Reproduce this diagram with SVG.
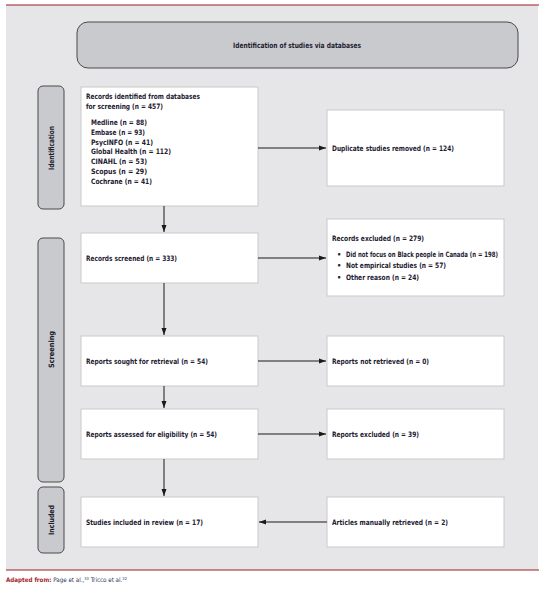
<svg xmlns="http://www.w3.org/2000/svg" width="544" height="593" viewBox="0 0 544 593">
<defs>
<style>
.t{font-family:"DejaVu Sans Condensed","Liberation Sans Narrow","Liberation Sans",sans-serif;font-weight:bold;font-size:7.4px;fill:#1c2030;}
.box{fill:#ffffff;stroke:#c9c9cb;stroke-width:1;}
.lab{fill:#c9cacd;stroke:#4a4a4a;stroke-width:1;}
.con{stroke:#1a1a1a;stroke-width:1;fill:none;}
</style>
<marker id="ah" markerWidth="8" markerHeight="6" refX="7" refY="3" orient="auto" markerUnits="userSpaceOnUse">
<path d="M0,0.5 L7,3 L0,5.5 Z" fill="#1a1a1a"/>
</marker>
</defs>
<rect x="0" y="0" width="544" height="593" fill="#ffffff"/>
<rect x="6" y="5" width="532" height="565" fill="#e6e6e8"/>
<line x1="6" y1="5" x2="539" y2="5" stroke="#9b1c22" stroke-width="1.2"/>
<line x1="6" y1="570" x2="539" y2="570" stroke="#9b1c22" stroke-width="1.2"/>

<g id="header">
<rect x="77" y="22" width="441" height="46" rx="11" fill="#c9cacd" stroke="#4a4a4a" stroke-width="1"/>
<text class="t" x="233" y="47.5" textLength="128" lengthAdjust="spacingAndGlyphs">Identification of studies via databases</text>
</g>

<g id="label-identification">
<rect class="lab" x="38" y="86" width="26" height="123" rx="5"/>
<text class="t" transform="translate(53.5,170) rotate(-90)" textLength="44" lengthAdjust="spacingAndGlyphs">Identification</text>
</g>
<g id="label-screening">
<rect class="lab" x="38" y="238" width="26" height="244" rx="5"/>
<text class="t" transform="translate(53.5,368) rotate(-90)" textLength="37" lengthAdjust="spacingAndGlyphs">Screening</text>
</g>
<g id="label-included">
<rect class="lab" x="38" y="487" width="26" height="66" rx="5"/>
<text class="t" transform="translate(53.5,535) rotate(-90)" textLength="30" lengthAdjust="spacingAndGlyphs">Included</text>
</g>

<g id="records-identified">
<rect class="box" x="81" y="87" width="177" height="119"/>
<text class="t" x="86" y="98.5" textLength="114" lengthAdjust="spacingAndGlyphs">Records identified from databases</text>
<text class="t" x="86" y="108.5" textLength="77" lengthAdjust="spacingAndGlyphs">for screening (n = 457)</text>
<text class="t" x="91" y="124.5" textLength="56" lengthAdjust="spacingAndGlyphs">Medline (n = 88)</text>
<text class="t" x="91" y="134.5" textLength="54" lengthAdjust="spacingAndGlyphs">Embase (n = 93)</text>
<text class="t" x="91" y="144.5" textLength="62" lengthAdjust="spacingAndGlyphs">PsycINFO (n = 41)</text>
<text class="t" x="91" y="154.3" textLength="80" lengthAdjust="spacingAndGlyphs">Global Health (n = 112)</text>
<text class="t" x="91" y="164.2" textLength="56" lengthAdjust="spacingAndGlyphs">CINAHL (n = 53)</text>
<text class="t" x="91" y="174.1" textLength="56" lengthAdjust="spacingAndGlyphs">Scopus (n = 29)</text>
<text class="t" x="91" y="184" textLength="61" lengthAdjust="spacingAndGlyphs">Cochrane (n = 41)</text>
</g>

<g id="duplicates">
<rect class="box" x="327" y="110" width="177" height="76"/>
<text class="t" x="332" y="150.5" textLength="122" lengthAdjust="spacingAndGlyphs">Duplicate studies removed (n = 124)</text>
</g>

<g id="records-screened">
<rect class="box" x="81" y="233" width="177" height="50"/>
<text class="t" x="86" y="261" textLength="91" lengthAdjust="spacingAndGlyphs">Records screened (n = 333)</text>
</g>

<g id="records-excluded">
<rect class="box" x="327" y="219" width="177" height="77"/>
<text class="t" x="332" y="241" textLength="92" lengthAdjust="spacingAndGlyphs">Records excluded (n = 279)</text>
<text class="t" x="337" y="256.5">•</text>
<text class="t" x="346" y="256.5" textLength="152" lengthAdjust="spacingAndGlyphs">Did not focus on Black people in Canada (n = 198)</text>
<text class="t" x="337" y="268">•</text>
<text class="t" x="346" y="268" textLength="100" lengthAdjust="spacingAndGlyphs">Not empirical studies (n = 57)</text>
<text class="t" x="337" y="279.5">•</text>
<text class="t" x="346" y="279.5" textLength="73" lengthAdjust="spacingAndGlyphs">Other reason (n = 24)</text>
</g>

<g id="reports-sought">
<rect class="box" x="81" y="336" width="177" height="50"/>
<text class="t" x="86" y="364" textLength="122" lengthAdjust="spacingAndGlyphs">Reports sought for retrieval (n = 54)</text>
</g>

<g id="reports-not-retrieved">
<rect class="box" x="327" y="336" width="177" height="50"/>
<text class="t" x="332" y="364" textLength="97" lengthAdjust="spacingAndGlyphs">Reports not retrieved (n = 0)</text>
</g>

<g id="reports-assessed">
<rect class="box" x="81" y="409" width="177" height="50"/>
<text class="t" x="86" y="437" textLength="131" lengthAdjust="spacingAndGlyphs">Reports assessed for eligibility (n = 54)</text>
</g>

<g id="reports-excluded">
<rect class="box" x="327" y="409" width="177" height="50"/>
<text class="t" x="332" y="437" textLength="87" lengthAdjust="spacingAndGlyphs">Reports excluded (n = 39)</text>
</g>

<g id="studies-included">
<rect class="box" x="81" y="497" width="177" height="50"/>
<text class="t" x="86" y="525" textLength="117" lengthAdjust="spacingAndGlyphs">Studies included in review (n = 17)</text>
</g>

<g id="articles-manual">
<rect class="box" x="327" y="497" width="177" height="50"/>
<text class="t" x="332" y="525" textLength="116" lengthAdjust="spacingAndGlyphs">Articles manually retrieved (n = 2)</text>
</g>

<g id="connectors">
<line class="con" x1="164" y1="206" x2="164" y2="232" marker-end="url(#ah)"/>
<line class="con" x1="258" y1="148" x2="326" y2="148" marker-end="url(#ah)"/>
<line class="con" x1="258" y1="258" x2="326" y2="258" marker-end="url(#ah)"/>
<line class="con" x1="164" y1="283" x2="164" y2="335" marker-end="url(#ah)"/>
<line class="con" x1="258" y1="361" x2="326" y2="361" marker-end="url(#ah)"/>
<line class="con" x1="164" y1="386" x2="164" y2="408" marker-end="url(#ah)"/>
<line class="con" x1="258" y1="434" x2="326" y2="434" marker-end="url(#ah)"/>
<line class="con" x1="164" y1="459" x2="164" y2="496" marker-end="url(#ah)"/>
<line class="con" x1="327" y1="522" x2="259" y2="522" marker-end="url(#ah)"/>
</g>

<g id="footer">
<text x="6" y="582" style="font-family:'DejaVu Sans Condensed','Liberation Sans Narrow','Liberation Sans',sans-serif;font-size:6.2px;"><tspan fill="#a3262c" font-weight="bold">Adapted from:</tspan><tspan fill="#2a3358"> Page et al.,</tspan><tspan fill="#2a3358" font-size="4px" dy="-2.5">33</tspan><tspan fill="#2a3358" dy="2.5"> Tricco et al.</tspan><tspan fill="#2a3358" font-size="4px" dy="-2.5">32</tspan></text>
</g>
</svg>
